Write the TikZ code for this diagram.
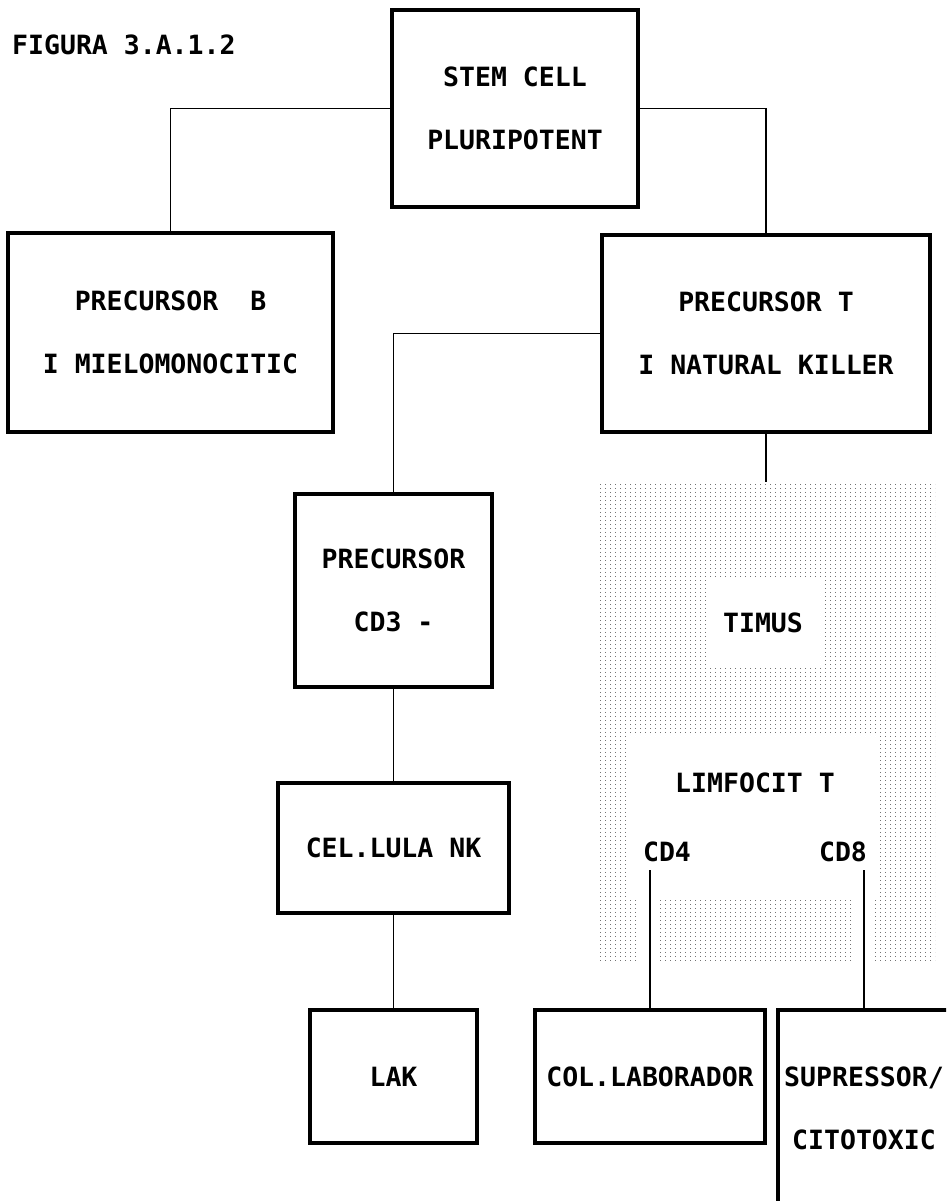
\documentclass[tikz,border=0pt]{standalone}
\usepackage{fontspec}
\newfontfamily\plotfont{DejaVu Sans Mono}
\usepackage{tikz}
\usetikzlibrary{positioning, patterns}
\pgfdeclarepatternformonly{sparsedots}{\pgfqpoint{-1pt}{-1pt}}{\pgfqpoint{1pt}{1pt}}{\pgfqpoint{5pt}{4pt}}{%
  \pgfpathrectangle{\pgfqpoint{0pt}{0pt}}{\pgfqpoint{1.1pt}{1.1pt}}\pgfusepath{fill}}
\tikzset{
  cellbox/.style={rectangle,draw=black,line width=4pt,fill=white,inner sep=0pt,outer sep=0pt,align=center,font=\plotfont\bfseries\fontsize{26.5}{63}\selectfont},
  link/.style={draw=black,line width=1.8pt},
  lbl/.style={inner sep=0pt,font=\plotfont\bfseries\fontsize{26.5}{30}\selectfont},
  stipple/.style={pattern=sparsedots,pattern color=black!55},
  gap/.style={fill=white,draw=none}
}
\begin{document}
\begin{tikzpicture}[x=1pt,y=-1pt,node distance=30pt and 30pt]
  \useasboundingbox (0,0) rectangle (946,1201);
  \clip (0,0) rectangle (946,1201);

  % timus area
  \fill[stipple] (597,482) rectangle (935,963);
  \fill[gap] (706,577) rectangle (823,667);
  \fill[gap] (630,735) rectangle (880,898);
  \fill[gap] (640,898) rectangle (660,963);
  \fill[gap] (853,898) rectangle (875,963);

  \node[lbl, anchor=west] (fig) at (12,45) {FIGURA 3.A.1.2};

  \node[cellbox, minimum width=246pt, minimum height=197pt] (stem) at (515,108.5) {STEM CELL\\PLURIPOTENT};
  \node[cellbox, minimum width=325pt, minimum height=199pt, below left=26pt and 59pt of stem] (precB) {PRECURSOR\ \ B\\I MIELOMONOCITIC};
  \node[cellbox, minimum width=328pt, minimum height=197pt] (precT) at (766,333.5) {PRECURSOR T\\I NATURAL KILLER};
  \node[cellbox, minimum width=197pt, minimum height=193pt, below left=62pt and 110pt of precT] (cd3) {PRECURSOR\\CD3 -};
  \node[cellbox, minimum width=231pt, minimum height=130pt, below=96pt of cd3] (nk) {CEL.LULA NK};
  \node[cellbox, minimum width=167pt, minimum height=133pt, below=97pt of nk] (lak) {LAK};
  \node[cellbox, minimum width=230pt, minimum height=133pt, right=58pt of lak] (col) {COL.LABORADOR};
  \node[cellbox, minimum width=172pt, minimum height=196pt, below right=0pt and 13pt of col.north east] (sup) {SUPRESSOR/\\CITOTOXIC};

  \node[lbl] (timus) at (763,623) {TIMUS};
  \node[lbl] (limf) at (755,783) {LIMFOCIT T};
  \node[lbl] (cd4) at (667,852) {CD4};
  \node[lbl] (cd8) at (843,852) {CD8};

  \coordinate (timtop) at (766,482);
  \coordinate (cd4end) at (650,870);
  \coordinate (cd8end) at (864,870);

  \draw[link] (stem.west) -| (precB.north);
  \draw[link] (stem.east) -| (precT.north);
  \draw[link] (precT.west) -| (cd3.north);
  \draw[link, line width=2.4pt] (precT.south) -- (timtop);
  \draw[link] (cd3.south) -- (nk.north);
  \draw[link] (nk.south) -- (lak.north);
  \draw[link, line width=2.4pt] (cd4end) -- (col.north);
  \draw[link, line width=2.4pt] (cd8end) -- (sup.north);
\end{tikzpicture}
\end{document}
